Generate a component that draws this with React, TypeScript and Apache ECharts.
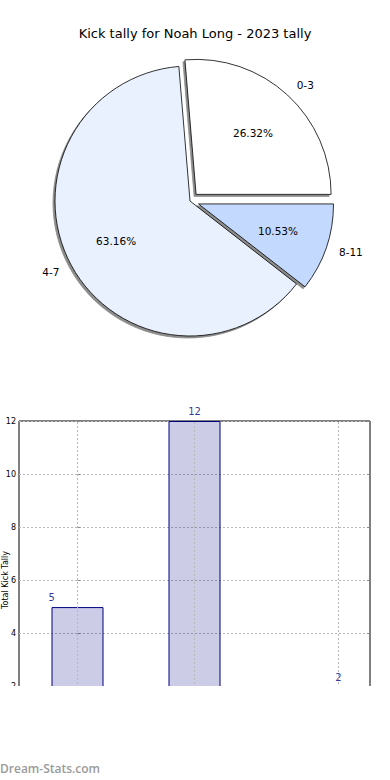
import React, { useEffect, useRef } from 'react';
import * as echarts from 'echarts';

const chartTitle = 'Kick tally for Noah Long - 2023 tally';
const categories = ['0-3', '4-7', '8-11'];
const tallies = [5, 12, 2];
const sliceColors = ['#ffffff', '#eaf1fe', '#c4d9fe'];
const explodedSlices = [true, false, true];
const gridTickX = [0, 1, 2.23];
const valueLabelX = [-0.22, 1, 2.23];
const yMin = 0;
const yMax = 12;
const yStep = 2;
const yAxisName = 'Total Kick Tally';
const watermark = 'Dream-Stats.com';

const FONT = 'DejaVu Sans';

export default function App() {
  const ref = useRef<HTMLDivElement>(null);
  useEffect(() => {
    if (!ref.current) return;
    const chart = echarts.init(ref.current, undefined, { renderer: 'svg' });
    const total = tallies.reduce((a, b) => a + b, 0);
    const pieData = categories.map((c, i) => ({
      name: c,
      value: tallies[i],
      selected: explodedSlices[i],
      itemStyle: { color: sliceColors[i] },
    }));
    const pieCommon = {
      type: 'pie',
      center: [190, 201],
      startAngle: 0,
      clockwise: false,
      selectedMode: 'multiple',
      selectedOffset: 9,
      avoidLabelOverlap: false,
      emphasis: { disabled: true },
    };
    const gridLine = { color: '#b8b8b8', type: [2, 2], width: 1 };
    chart.setOption({
      animation: false,
      title: {
        text: chartTitle,
        left: 'center',
        top: 22,
        textStyle: { fontSize: 13, fontWeight: 'normal', color: '#000', fontFamily: FONT },
      },
      grid: {
        left: 19,
        right: 20,
        top: 421,
        bottom: 40,
        show: true,
        borderColor: '#000',
        borderWidth: 1,
        backgroundColor: 'transparent',
        containLabel: false,
        outerBoundsMode: 'none',
      },
      xAxis: [
        {
          type: 'category',
          data: categories,
          show: false,
        },
        {
          type: 'value',
          min: -0.5,
          max: 2.5,
          show: false,
        },
      ],
      yAxis: [
        {
          type: 'value',
          min: yMin,
          max: yMax,
          interval: yStep,
          axisLine: { show: false },
          axisTick: { show: true, inside: true, length: 3, lineStyle: { color: '#888' } },
          axisLabel: { fontSize: 8, color: '#000', margin: 3, fontFamily: FONT, showMinLabel: false },
          splitLine: { show: true, lineStyle: gridLine },
        },
        {
          type: 'value',
          position: 'right',
          min: yMin,
          max: yMax,
          interval: yStep,
          axisLine: { show: false },
          axisTick: { show: true, inside: true, length: 3, lineStyle: { color: '#888' } },
          axisLabel: { show: false },
          splitLine: { show: false },
        },
      ],
      series: [
        {
          ...pieCommon,
          radius: 135,
          data: pieData,
          itemStyle: {
            borderColor: '#000',
            borderWidth: 0.8,
            shadowColor: 'rgba(0,0,0,0.45)',
            shadowOffsetX: -2,
            shadowOffsetY: 2,
            shadowBlur: 1,
          },
          select: { itemStyle: { borderColor: '#000', borderWidth: 0.8 } },
          label: {
            show: true,
            position: 'outside',
            formatter: '{b}',
            fontSize: 10.5,
            color: '#000',
            fontFamily: FONT,
            distanceToLabelLine: 0,
          },
          labelLine: { show: false, length: 13.5, length2: 0 },
        },
        {
          ...pieCommon,
          radius: [62, 100],
          silent: true,
          data: pieData.map((d) => ({ ...d, itemStyle: { color: 'rgba(0,0,0,0)' } })),
          itemStyle: { color: 'rgba(0,0,0,0)', borderWidth: 0 },
          select: { itemStyle: { color: 'rgba(0,0,0,0)', borderWidth: 0 } },
          label: {
            show: true,
            position: 'inside',
            formatter: (p: any) => ((p.value / total) * 100).toFixed(2) + '%',
            fontSize: 10.5,
            color: '#000',
            fontFamily: FONT,
          },
          labelLine: { show: false },
        },
        {
          type: 'bar',
          xAxisIndex: 0,
          yAxisIndex: 0,
          barWidth: 52,
          data: tallies,
          itemStyle: { color: 'rgba(0,0,128,0.2)', borderColor: '#000080', borderWidth: 1 },
          emphasis: { disabled: true },
        },
        {
          type: 'scatter',
          xAxisIndex: 1,
          yAxisIndex: 0,
          symbolSize: 1,
          itemStyle: { color: 'rgba(0,0,0,0)' },
          silent: true,
          data: valueLabelX.map((x, i) => [x, tallies[i]]),
          label: {
            show: true,
            position: 'top',
            distance: 4,
            color: '#000080',
            fontSize: 10,
            fontFamily: FONT,
            formatter: (p: any) => String(p.value[1]),
          },
          markLine: {
            silent: true,
            symbol: ['none', 'none'],
            label: { show: false },
            lineStyle: gridLine,
            data: gridTickX.map((x) => ({ xAxis: x })),
          },
        },
      ],
      graphic: [
        {
          type: 'text',
          x: 5,
          y: 580,
          rotation: Math.PI / 2,
          style: {
            text: yAxisName,
            fill: '#000',
            font: '8px "DejaVu Sans"',
            align: 'center',
            verticalAlign: 'middle',
          },
        },
        {
          type: 'rect',
          left: 0,
          top: 686,
          z: 100,
          shape: { width: 390, height: 94 },
          style: { fill: '#ffffff' },
        },
        {
          type: 'text',
          left: 0,
          top: 762,
          z: 101,
          style: { text: watermark, fill: '#9a9a9a', font: '600 12px "Open Sans"' },
        },
      ],
    });
    return () => chart.dispose();
  }, []);
  return (
    <div
      ref={ref}
      style={{ position: 'absolute', left: 0, top: 0, width: 390, height: 780, background: '#fff' }}
    />
  );
}
